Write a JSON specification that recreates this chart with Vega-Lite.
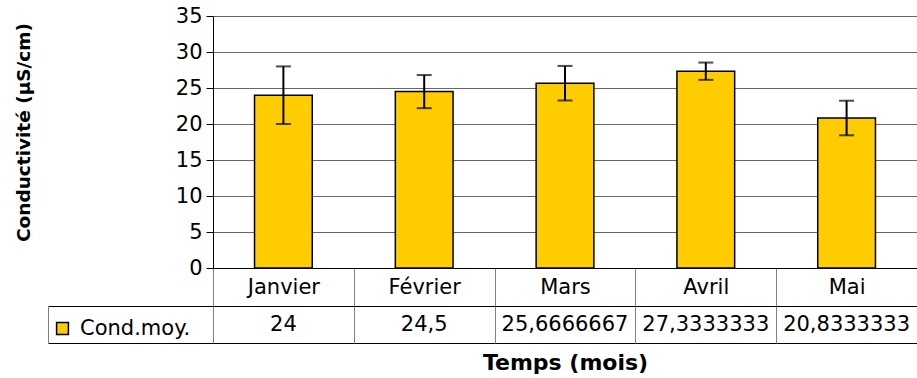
{
  "$schema": "https://vega.github.io/schema/vega-lite/v6.json",
  "background": "white",
  "padding": {"left": 14, "top": 5, "right": 0, "bottom": 0},
  "bounds": "flush",
  "spacing": 38,
  "config": {
    "font": "DejaVu Sans",
    "locale": {"number": {"decimal": ",", "thousands": " ", "grouping": [3], "currency": ["", " €"]}},
    "axis": {"labelFont": "DejaVu Sans", "labelFontSize": 21, "labelColor": "black", "titleColor": "black"},
    "view": {"stroke": null}
  },
  "data": {
    "values": [
      {"month": "Janvier", "serie": "Cond.moy.", "cond": 24, "err": 4.0},
      {"month": "Février", "serie": "Cond.moy.", "cond": 24.5, "err": 2.3},
      {"month": "Mars", "serie": "Cond.moy.", "cond": 25.6666667, "err": 2.4},
      {"month": "Avril", "serie": "Cond.moy.", "cond": 27.3333333, "err": 1.2},
      {"month": "Mai", "serie": "Cond.moy.", "cond": 20.8333333, "err": 2.4}
    ]
  },
  "vconcat": [
    {
      "width": 704,
      "height": 252,
      "encoding": {
        "x": {
          "field": "month", "type": "nominal",
          "sort": ["Janvier", "Février", "Mars", "Avril", "Mai"],
          "scale": {"paddingInner": 0, "paddingOuter": 0},
          "axis": {
            "title": null, "tickBand": "extent", "tickSize": 38, "tickColor": "#808080", "tickWidth": 1,
            "domainColor": "black", "domainWidth": 1, "labelAngle": 0, "labelBaseline": "middle",
            "labelPadding": -19, "grid": false
          }
        },
        "y": {
          "field": "cond", "type": "quantitative",
          "scale": {"domain": [0, 35], "nice": false},
          "axis": {
            "title": "Conductivité (µS/cm)", "titleFont": "DejaVu Sans", "titleFontWeight": "bold",
            "titleFontSize": 18.5, "titleX": -190, "titleY": 116, "titleBaseline": "middle",
            "values": [0, 5, 10, 15, 20, 25, 30, 35], "tickSize": 7, "tickColor": "black",
            "domainColor": "black", "labelPadding": 4, "grid": true, "gridColor": "#666666"
          }
        }
      },
      "layer": [
        {
          "mark": {"type": "bar", "stroke": "black", "strokeWidth": 1.5, "width": {"band": 0.41}},
          "encoding": {
            "color": {
              "field": "serie", "type": "nominal",
              "scale": {"range": ["#FFCC00"]},
              "legend": {
                "title": null, "orient": "none", "legendX": -161, "legendY": 302,
                "symbolType": "square", "symbolSize": 140, "symbolStrokeColor": "black",
                "symbolStrokeWidth": 1.5, "labelFontSize": 21, "labelFont": "DejaVu Sans",
                "labelColor": "black", "labelOffset": 7, "padding": 0
              }
            }
          }
        },
        {
          "mark": {"type": "errorbar", "color": "black", "thickness": 2, "ticks": {"size": 15}},
          "encoding": {"yError": {"field": "err"}}
        }
      ]
    },
    {
      "width": 704,
      "height": 37,
      "view": {"stroke": "black"},
      "mark": {"type": "text", "fontSize": 21, "font": "DejaVu Sans", "color": "black"},
      "encoding": {
        "x": {
          "field": "month", "type": "nominal",
          "sort": ["Janvier", "Février", "Mars", "Avril", "Mai"],
          "scale": {"paddingInner": 0, "paddingOuter": 0},
          "axis": {
            "orient": "bottom", "labels": false, "ticks": false, "domain": false, "grid": true,
            "gridColor": "#808080", "tickBand": "extent", "title": "Temps (mois)",
            "titleFont": "DejaVu Sans", "titleFontWeight": "bold", "titleFontSize": 22, "titlePadding": 9
          }
        },
        "y": {
          "field": "serie", "type": "nominal",
          "axis": {
            "offset": 165, "labels": false, "title": null, "domain": true, "domainColor": "#808080",
            "ticks": true, "tickBand": "extent", "tickSize": -165, "tickColor": "black", "grid": false
          }
        },
        "text": {"field": "cond", "type": "quantitative", "format": ".9~r"}
      }
    }
  ]
}
